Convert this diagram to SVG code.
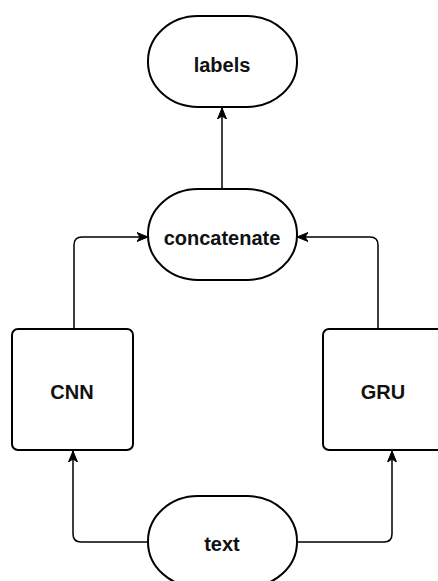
<svg xmlns="http://www.w3.org/2000/svg" width="438" height="581" viewBox="0 0 438 581">
  <style>
    .node { fill: #ffffff; stroke: #000000; stroke-width: 2; }
    .label { font-family: "Liberation Sans", Arial, sans-serif; font-weight: bold; font-size: 20px; fill: #111111; text-anchor: middle; }
    .edge { fill: none; stroke: #000000; stroke-width: 1.5; marker-end: url(#arrow); }
  </style>
  <defs>
    <marker id="arrow" markerUnits="userSpaceOnUse" markerWidth="12" markerHeight="10" viewBox="0 0 12 10" refX="11" refY="5" orient="auto">
      <path d="M0,0.5 L11,5 L0,9.5 L3,5 Z" fill="#000000" stroke="#000000" stroke-width="1"/>
    </marker>
  </defs>
  <rect width="438" height="581" fill="#ffffff"/>

  <g id="connectors">
    <path class="edge" d="M222,188 V108"/>
    <path class="edge" d="M74,329 V245 Q74,237 82,237 H148"/>
    <path class="edge" d="M378,329 V245 Q378,237 370,237 H297"/>
    <path class="edge" d="M148,542 H81 Q73,542 73,534 V451"/>
    <path class="edge" d="M297,542 H384 Q392,542 392,534 V451"/>
  </g>

  <g id="node-labels">
    <rect class="node" x="148" y="16" width="149" height="91" rx="50" ry="45"/>
    <text class="label" x="222" y="72">labels</text>
  </g>

  <g id="node-concatenate">
    <rect class="node" x="148" y="189" width="149" height="91" rx="50" ry="45"/>
    <text class="label" x="222" y="245">concatenate</text>
  </g>

  <g id="node-cnn">
    <rect class="node" x="12" y="329" width="121" height="121" rx="6" ry="6"/>
    <text class="label" x="72" y="399">CNN</text>
  </g>

  <g id="node-gru">
    <rect class="node" x="323" y="329" width="121" height="121" rx="6" ry="6"/>
    <text class="label" x="383" y="399">GRU</text>
  </g>

  <g id="node-text">
    <rect class="node" x="148" y="496" width="149" height="91" rx="50" ry="45"/>
    <text class="label" x="222" y="551">text</text>
  </g>
</svg>
